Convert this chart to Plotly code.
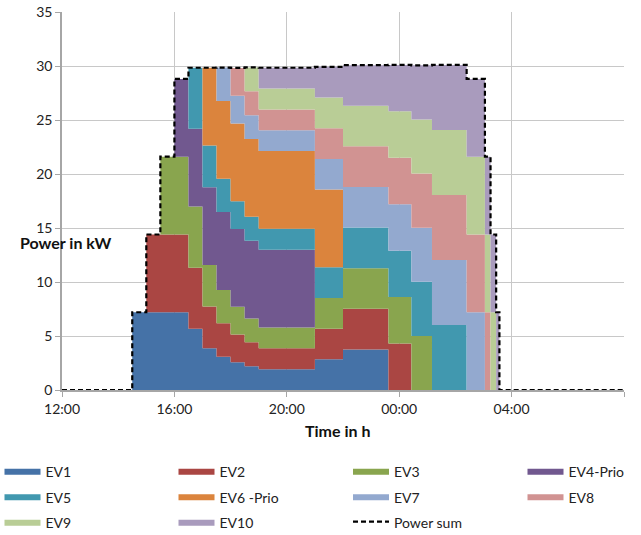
import plotly.graph_objects as go

# Time break points (each value holds until the next time)
times = ["2021-01-01 12:00", "2021-01-01 14:30", "2021-01-01 15:00", "2021-01-01 15:30",
         "2021-01-01 16:00", "2021-01-01 16:30", "2021-01-01 17:00", "2021-01-01 17:30",
         "2021-01-01 18:00", "2021-01-01 18:30", "2021-01-01 19:00", "2021-01-01 21:00",
         "2021-01-01 22:00", "2021-01-01 23:37", "2021-01-02 00:26", "2021-01-02 01:10",
         "2021-01-02 02:24", "2021-01-02 03:03", "2021-01-02 03:15", "2021-01-02 03:27",
         "2021-01-02 03:34", "2021-01-02 08:00"]

ev1 = [0, 7.2, 7.2, 7.2, 7.2, 5.66, 3.86, 3.09, 2.57, 2.21, 1.93, 2.84, 3.76, 0, 0, 0, 0, 0, 0, 0, 0, 0]
ev2 = [0, 0, 7.2, 7.2, 7.2, 5.66, 3.86, 3.09, 2.57, 2.21, 1.93, 2.84, 3.76, 4.30, 0, 0, 0, 0, 0, 0, 0, 0]
ev3 = [0, 0, 0, 7.2, 7.2, 5.66, 3.86, 3.09, 2.57, 2.21, 1.93, 2.84, 3.76, 4.30, 5.01, 0, 0, 0, 0, 0, 0, 0]
ev4 = [0, 0, 0, 0, 7.2, 7.2, 7.2, 7.2, 7.2, 7.2, 7.2, 0, 0, 0, 0, 0, 0, 0, 0, 0, 0, 0]
ev5 = [0, 0, 0, 0, 0, 5.66, 3.86, 3.09, 2.57, 2.21, 1.93, 2.84, 3.76, 4.30, 5.01, 6.02, 0, 0, 0, 0, 0, 0]
ev6 = [0, 0, 0, 0, 0, 0, 7.2, 7.2, 7.2, 7.2, 7.2, 7.2, 0, 0, 0, 0, 0, 0, 0, 0, 0, 0]
ev7 = [0, 0, 0, 0, 0, 0, 0, 3.09, 2.57, 2.21, 1.93, 2.84, 3.76, 4.30, 5.01, 6.02, 7.2, 0, 0, 0, 0, 0]
ev8 = [0, 0, 0, 0, 0, 0, 0, 0, 2.57, 2.21, 1.93, 2.84, 3.76, 4.30, 5.01, 6.02, 7.2, 7.2, 0, 0, 0, 0]
ev9 = [0, 0, 0, 0, 0, 0, 0, 0, 0, 2.21, 1.93, 2.84, 3.76, 4.30, 5.01, 6.02, 7.2, 7.2, 7.2, 0, 0, 0]
ev10 = [0, 0, 0, 0, 0, 0, 0, 0, 0, 0, 1.93, 2.84, 3.76, 4.30, 5.01, 6.02, 7.2, 7.2, 7.2, 7.2, 0, 0]
power_sum = [0, 7.2, 14.4, 21.6, 28.8, 29.84, 29.84, 29.85, 29.82, 29.87, 29.84, 29.92, 30.08,
             30.10, 30.06, 30.10, 28.8, 21.6, 14.4, 7.2, 0, 0]

series_names = ["EV1", "EV2", "EV3", "EV4-Prio", "EV5", "EV6 -Prio", "EV7", "EV8", "EV9", "EV10"]
series_values = [ev1, ev2, ev3, ev4, ev5, ev6, ev7, ev8, ev9, ev10]
colors = ["#4572A7", "#AA4643", "#89A54E", "#71588F", "#4198AF",
          "#DB843D", "#93A9CF", "#D19392", "#B9CD96", "#A99BBD"]
# legend column (1..4) for each series, Excel-style 4-column legend
legend_cols = ["legend", "legend2", "legend3", "legend4", "legend",
               "legend2", "legend3", "legend4", "legend", "legend2"]

tick_vals = ["2021-01-01 12:00", "2021-01-01 16:00", "2021-01-01 20:00",
             "2021-01-02 00:00", "2021-01-02 04:00", "2021-01-02 08:00"]
tick_text = ["12:00", "16:00", "20:00", "00:00", "04:00", ""]
y_ticks = [0, 5, 10, 15, 20, 25, 30, 35]

FONT = "Lato"
TXT = "<span style='font-size:14px'>{}</span>"

fig = go.Figure()
for name, vals, col, lg in zip(series_names, series_values, colors, legend_cols):
    fig.add_trace(go.Scatter(
        x=times, y=vals, name=TXT.format(name), mode="lines", stackgroup="ev",
        line=dict(shape="hv", width=0, color=col), fillcolor=col, legend=lg,
    ))

fig.add_trace(go.Scatter(
    x=times, y=power_sum, name=TXT.format("Power sum"), mode="lines", legend="legend3",
    line=dict(shape="hv", width=2.2, color="#000000", dash="5px,3px"),
))

# plot area: x 62..624, y 12..390
PL, PW, PB, PH = 62, 562, 390, 378


def lg(px_left, px_top):
    return dict(
        orientation="v", xref="paper", yref="paper",
        x=(px_left - PL) / PW, y=(PB - px_top) / PH, xanchor="left", yanchor="top",
        traceorder="normal", font=dict(family=FONT, size=17.3, color="#222222"),
        itemwidth=36, bgcolor="rgba(0,0,0,0)", tracegroupgap=0,
    )


LEG_TOP = 453
fig.update_layout(
    width=641, height=535,
    margin=dict(l=62, r=17, t=12, b=145, autoexpand=False),
    paper_bgcolor="white", plot_bgcolor="white",
    font=dict(family=FONT, size=14, color="#222222"),
    showlegend=True,
    legend=lg(-0.5, LEG_TOP),
    legend2=lg(173.5, LEG_TOP),
    legend3=lg(348, LEG_TOP),
    legend4=lg(522.5, LEG_TOP),
    xaxis=dict(
        type="date", range=["2021-01-01 12:00", "2021-01-02 08:00"],
        tickvals=tick_vals, ticktext=tick_text,
        showgrid=True, gridcolor="#C8C8C8", gridwidth=1,
        showline=True, linecolor="#A6A6A6", linewidth=1.5,
        ticks="outside", ticklen=5, tickcolor="#A6A6A6",
        tickfont=dict(size=14), zeroline=False,
    ),
    yaxis=dict(
        range=[0, 35], tickvals=y_ticks,
        showgrid=True, gridcolor="#C8C8C8", gridwidth=1,
        showline=True, linecolor="#A6A6A6", linewidth=1.5,
        ticks="outside", ticklen=5, tickcolor="#A6A6A6",
        tickfont=dict(size=14), zeroline=False,
    ),
    annotations=[
        dict(text="<b>Time in h</b>", xref="paper", yref="paper", x=(337 - PL) / PW,
             y=(PB - 430) / PH, xanchor="center", yanchor="middle", showarrow=False,
             font=dict(family=FONT, size=16, color="#111111")),
        dict(text="<b>Power in kW</b>", xref="paper", yref="paper", x=(65 - PL) / PW,
             y=(PB - 242) / PH, xanchor="center", yanchor="middle", showarrow=False,
             font=dict(family=FONT, size=16, color="#111111")),
    ],
)

fig.write_html("out.html", config={"displayModeBar": False},
               post_script="document.body.style.margin='0';")
